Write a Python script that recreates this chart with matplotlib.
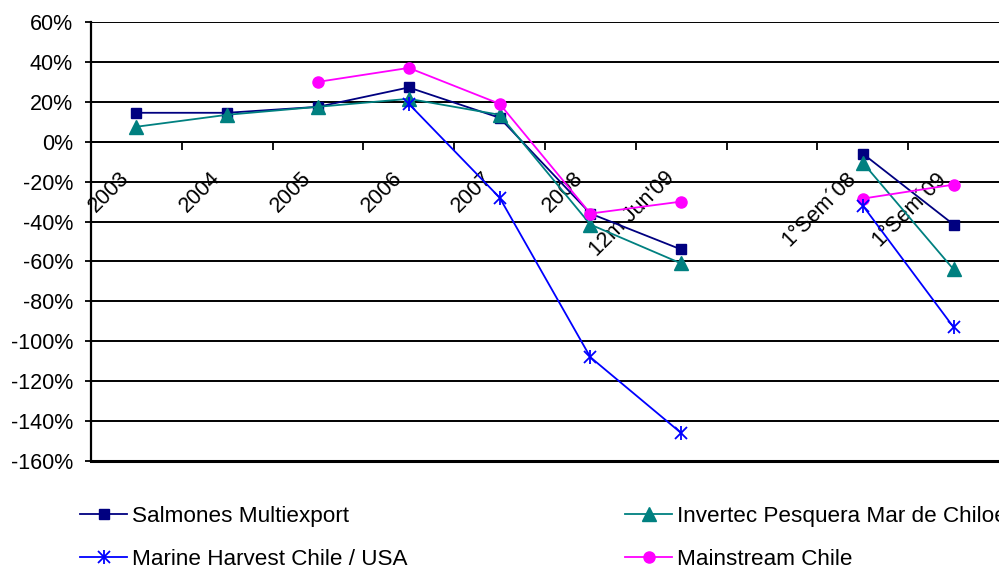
import numpy as np
import matplotlib
matplotlib.use("Agg")
import matplotlib.pyplot as plt
from matplotlib.ticker import FuncFormatter, FixedLocator
from matplotlib.lines import Line2D
from matplotlib.transforms import ScaledTranslation

plt.rcParams['font.family'] = ['Liberation Sans', 'DejaVu Sans']

categories = ["2003", "2004", "2005", "2006", "2007", "2008", "12m Jun'09", "",
              "1°Sem´08", "1°Sem´09"]

nan = np.nan
salmones = [0.145, 0.145, 0.175, 0.272, 0.120, -0.360, -0.540, nan, -0.060, -0.415]
invertec = [0.075, 0.135, 0.175, 0.215, 0.135, -0.415, -0.610, nan, -0.105, -0.640]
marine = [nan, nan, nan, 0.190, -0.280, -1.080, -1.460, nan, -0.320, -0.930]
mainstream = [nan, nan, 0.300, 0.370, 0.190, -0.360, -0.300, nan, -0.285, -0.215]

series_names = ["Salmones Multiexport", "Invertec Pesquera Mar de Chiloé",
                "Marine Harvest Chile / USA", "Mainstream Chile"]

W, H = 999, 569
fig = plt.figure(figsize=(W / 100, H / 100), dpi=100)
ax = fig.add_axes([91 / W, 1 - 461 / H, (999 - 91) / W, (461 - 22) / H])

x = np.arange(len(categories))

styles = [
    dict(data=salmones, color="#000080", marker="s", ms=7.5),
    dict(data=invertec, color="#008080", marker="^", ms=9.5),
    dict(data=marine, color="#0000FF", marker=None, ms=0),
    dict(data=mainstream, color="#FF00FF", marker="o", ms=8),
]

handles = []
for name, st in zip(series_names, styles):
    if st["marker"] is None:
        ax.plot(x, st["data"], color=st["color"], lw=1.3, zorder=3)
        # asterisk marker: an x with a vertical bar through it
        ax.plot(x, st["data"], ls="none", marker="x", ms=8, mew=1.3,
                color=st["color"], zorder=4)
        ax.plot(x, st["data"], ls="none", marker="|", ms=10, mew=1.3,
                color=st["color"], zorder=4)
        h = (Line2D([], [], color=st["color"], lw=1.3),
             Line2D([], [], ls="none", marker="x", ms=8, mew=1.3, color=st["color"]),
             Line2D([], [], ls="none", marker="|", ms=10, mew=1.3, color=st["color"]))
    else:
        h, = ax.plot(x, st["data"], color=st["color"], lw=1.3,
                     marker=st["marker"], ms=st["ms"], mfc=st["color"],
                     mec=st["color"], zorder=3)
    handles.append(h)

ax.set_xlim(-0.5, len(categories) - 0.5)
ax.set_ylim(-1.6, 0.6)
ax.set_yticks(np.arange(-1.6, 0.61, 0.2))
ax.yaxis.set_major_formatter(FuncFormatter(lambda v, p: f"{int(round(v * 100))}%"))
ax.grid(axis="y", color="black", lw=1.4)
ax.set_axisbelow(True)

ax.spines["top"].set_visible(False)
ax.spines["right"].set_visible(False)
ax.spines["left"].set_linewidth(1.6)
ax.spines["bottom"].set_position(("data", 0))
ax.spines["bottom"].set_linewidth(1.4)
ax.axhline(-1.6, color="black", lw=2.2, zorder=2, clip_on=False)

ax.set_xticks(x)
ax.set_xticklabels(categories, rotation=45, ha="right", va="center",
                   rotation_mode="anchor", fontsize=15.5)
ax.xaxis.set_minor_locator(FixedLocator(np.arange(0.5, len(categories) - 1, 1.0)))
ax.tick_params(axis="x", which="major", length=0, pad=24)
ax.tick_params(axis="x", which="minor", length=6, width=1.3, direction="out",
               color="black")
ax.tick_params(axis="y", length=4.5, width=1.3, direction="out", pad=8.5,
               labelsize=15.5)
shift = ScaledTranslation(-10 / 100, 0, fig.dpi_scale_trans)
for lbl in ax.get_xticklabels():
    lbl.set_transform(lbl.get_transform() + shift)

leg_kw = dict(frameon=False, fontsize=16.2, handlelength=2.1, handletextpad=0.2,
              labelspacing=0.98, borderaxespad=0, borderpad=0, loc="upper left")
leg1 = fig.legend([handles[0], handles[2]], [series_names[0], series_names[2]],
                  bbox_to_anchor=(80 / W, 1 - 506 / H), **leg_kw)
leg2 = fig.legend([handles[1], handles[3]], [series_names[1], series_names[3]],
                  bbox_to_anchor=(625 / W, 1 - 506 / H), **leg_kw)

fig.savefig("out.png", dpi=100)
